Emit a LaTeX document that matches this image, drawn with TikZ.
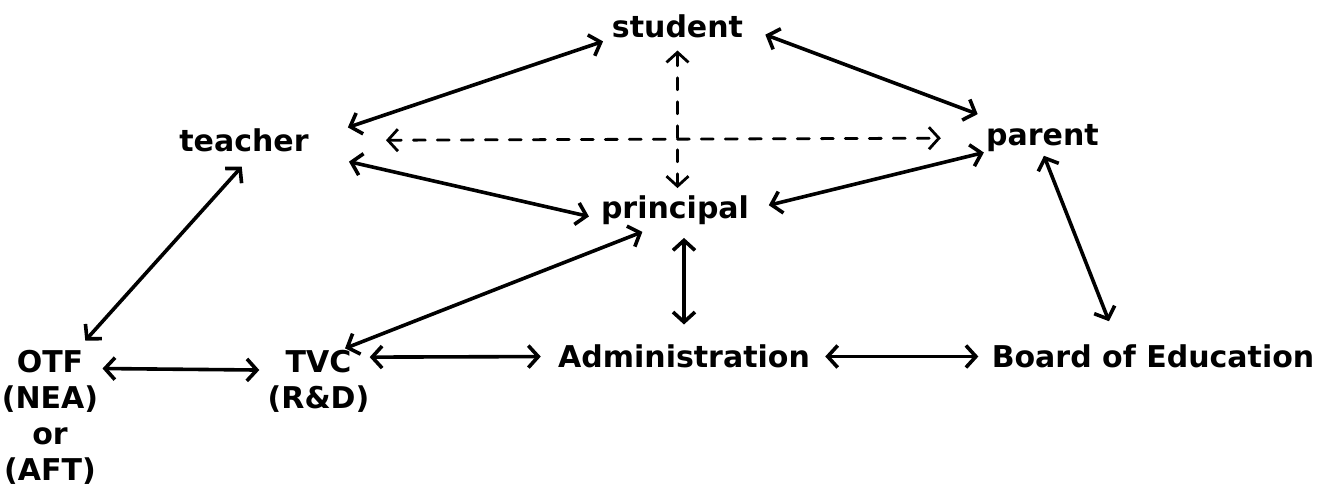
\documentclass[tikz,border=0pt]{standalone}
\usepackage{fontspec}
\setmainfont{DejaVu Sans}
\usetikzlibrary{arrows.meta}

\begin{document}
\begin{tikzpicture}[x=0.5pt,y=-0.5pt,
  lbl/.style={inner sep=0pt, font=\fontsize{15}{18}\selectfont\bfseries, align=center},
  link/.style={{Straight Barb[length=5pt,width=11pt]}-{Straight Barb[length=5pt,width=11pt]}, line width=1.8pt, line cap=round},
  dlink/.style={link, line width=1.4pt, dash pattern=on 6pt off 6pt}]
  \useasboundingbox (0,0) rectangle (1324,487);
  \node[lbl] (student) at (677.5,26.5) {student};
  \node[lbl] (teacher) at (244,140.5) {teacher};
  \node[lbl] (parent) at (1042.5,138) {parent};
  \node[lbl] (principal) at (675,210) {principal};
  \node[lbl] (otf) at (50,417) {OTF\\(NEA)\\or\\(AFT)};
  \node[lbl] (tvc) at (318.5,381) {TVC\\(R\&D)};
  \node[lbl] (admin) at (684,356.5) {Administration};
  \node[lbl] (board) at (1153,356.5) {Board of Education};
  \draw[link, shorten <=20.5pt, shorten >=4.5pt] (teacher.east) -- (student.south west);
  \draw[link, shorten <=11.7pt, shorten >=14pt] (student.east) -- (parent.160);
  \draw[dlink, shorten <=38.5pt, shorten >=22.5pt] (teacher.east) -- (parent.west);
  \draw[dlink, shorten <=6pt, shorten >=3.5pt] (student.south) -- (student.south |- principal.north);
  \draw[link, shorten <=20.5pt, shorten >=6pt] (teacher.south east) -- (principal.187);
  \draw[link, shorten <=10pt, shorten >=1pt] (principal.east) -- (parent.south west);
  \draw[link, shorten <=9.5pt, shorten >=6pt] (teacher.311) -- (otf.68);
  \draw[link, shorten <=9.5pt, shorten >=1.5pt] (principal.225) -- (tvc.53);
  \draw[link, shorten <=6.5pt, shorten >=10pt] (admin.north |- principal.south) -- (admin.north);
  \draw[link, shorten <=2pt, shorten >=12.5pt] (parent.south) -- (board.161);
  \draw[link, shorten <=2pt, shorten >=4pt] (otf.45) -- (tvc.168);
  \draw[link, shorten <=0pt, shorten >=8.5pt] (tvc.25) -- (admin.west);
  \draw[link, shorten <=7.5pt, shorten >=6.5pt] (admin.east) -- (board.west);
\end{tikzpicture}
\end{document}
